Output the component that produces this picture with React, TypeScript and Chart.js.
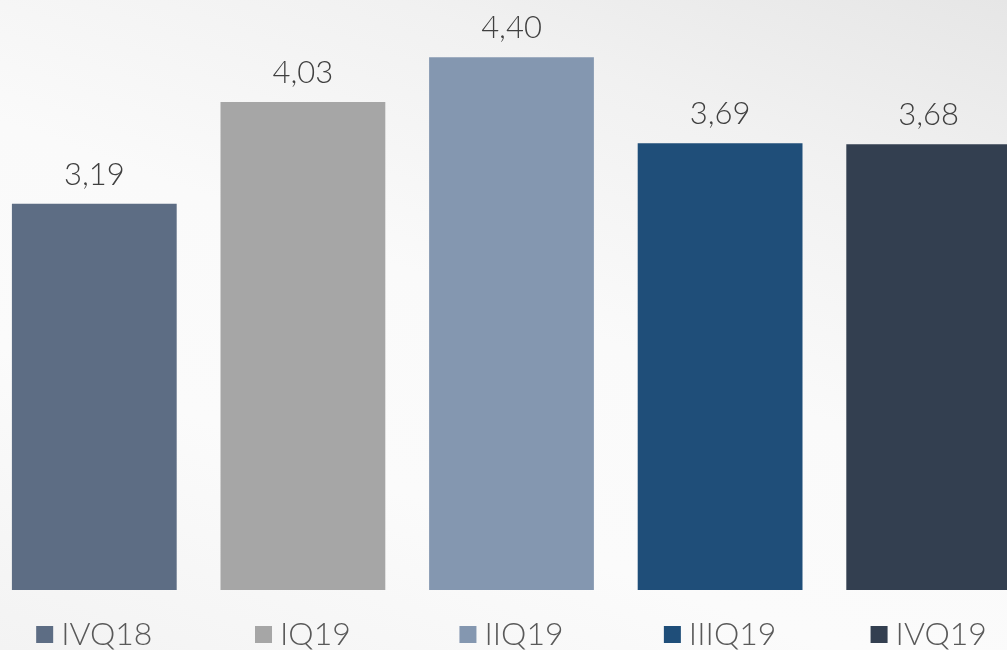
import { useEffect, useRef } from "react";
import { Chart, registerables } from "chart.js";

Chart.register(...registerables);

const categories = ["IVQ18", "IQ19", "IIQ19", "IIIQ19", "IVQ19"];
const values = [3.19, 4.03, 4.4, 3.69, 3.68];
const valueLabels = ["3,19", "4,03", "4,40", "3,69", "3,68"];
const colors = ["#5d6d84", "#a6a6a6", "#8497b0", "#1f4e79", "#333f50"];
const yMax = 4.872;

const FONT = '"Lato", "Open Sans", sans-serif';

const labelsPlugin = {
  id: "customLabels",
  afterDatasetsDraw(chart: any) {
    const ctx = chart.ctx as CanvasRenderingContext2D;
    const meta = chart.getDatasetMeta(0);
    const area = chart.chartArea;
    ctx.save();
    ctx.font = `300 31px ${FONT}`;
    ctx.fillStyle = "#404040";
    ctx.textAlign = "center";
    ctx.textBaseline = "alphabetic";
    meta.data.forEach((bar: any, i: number) => {
      ctx.fillText(valueLabels[i], bar.x, bar.y - 19);
    });
    ctx.font = `300 32px ${FONT}`;
    ctx.textAlign = "left";
    const sq = 17;
    const gap = 8;
    const xScale = chart.scales.x;
    categories.forEach((c, i) => {
      const cx = xScale.getPixelForValue(i);
      const tw = ctx.measureText(c).width;
      const total = sq + gap + tw;
      const x0 = cx - total / 2;
      ctx.fillStyle = colors[i];
      ctx.fillRect(x0, area.bottom + 36, sq, sq);
      ctx.fillStyle = "#595959";
      ctx.fillText(c, x0 + sq + gap, area.bottom + 55);
    });
    ctx.restore();
  },
};

export default function App() {
  const ref = useRef<HTMLCanvasElement | null>(null);
  useEffect(() => {
    if (!ref.current) return;
    const chart = new Chart(ref.current, {
      type: "bar",
      data: {
        labels: categories,
        datasets: [
          {
            data: values,
            backgroundColor: colors,
            borderWidth: 0,
            categoryPercentage: 1,
            barPercentage: 0.79,
          },
        ],
      },
      options: {
        animation: false,
        responsive: true,
        maintainAspectRatio: false,
        layout: { padding: { top: 0, left: 0, right: 0, bottom: 60 } },
        plugins: {
          legend: { display: false },
          tooltip: { enabled: false },
        },
        scales: {
          x: { display: false },
          y: { display: false, min: 0, max: yMax },
        },
      },
      plugins: [labelsPlugin],
    });
    return () => chart.destroy();
  }, []);

  return (
    <div
      style={{
        position: "fixed",
        left: 0,
        top: 0,
        width: 1007,
        height: 650,
        overflow: "hidden",
        background:
          "linear-gradient(200deg, #e6e6e6 0%, #f1f1f1 22%, #fafafa 48%, #fbfbfb 70%, #f3f3f3 100%)",
      }}
    >
      <div style={{ position: "absolute", left: -10, top: 0, width: 1043, height: 650 }}>
        <canvas ref={ref} />
      </div>
    </div>
  );
}
